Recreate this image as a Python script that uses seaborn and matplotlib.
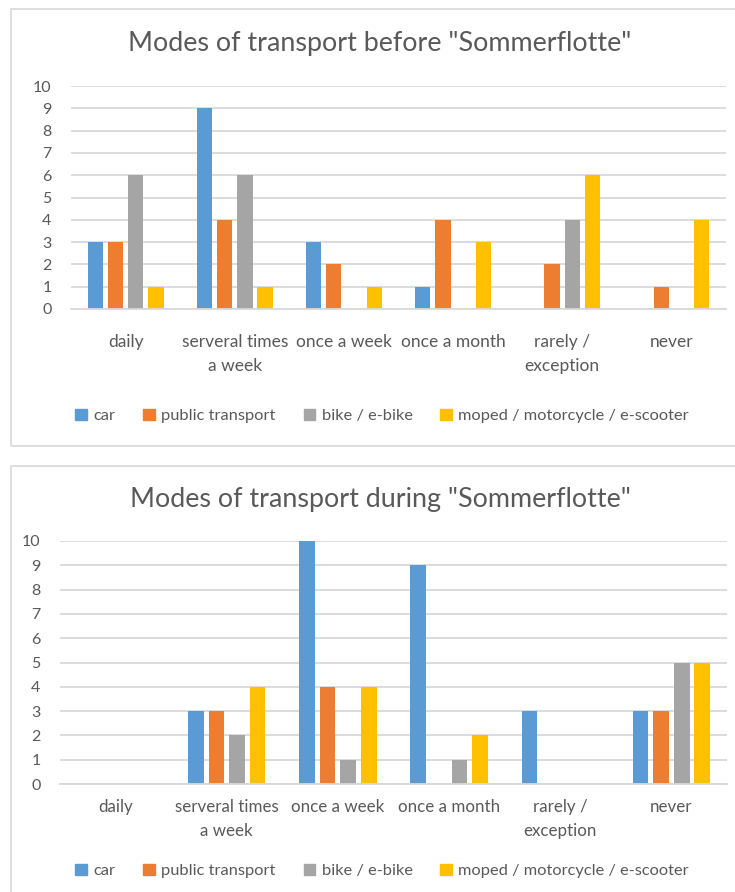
import numpy as np
import pandas as pd
import matplotlib
matplotlib.use("Agg")
import matplotlib.pyplot as plt
from matplotlib.patches import Rectangle
import seaborn as sns

sns.set_style("white")
plt.rcParams['font.family'] = ['Lato', 'DejaVu Sans']

# --------------------------------------------------
categories = ["daily", "serveral times\na week", "once a week", "once a month",
              "rarely /\nexception", "never"]
modes = ["car", "public transport", "bike / e-bike", "moped / motorcycle / e-scooter"]
colors = ["#5B9BD5", "#ED7D31", "#A5A5A5", "#FFC000"]

before_car = [3, 9, 3, 1, 0, 0]
before_public = [3, 4, 2, 4, 2, 1]
before_bike = [6, 6, 0, 0, 4, 0]
before_moped = [1, 1, 1, 3, 6, 4]

during_car = [0, 3, 10, 9, 3, 3]
during_public = [0, 3, 4, 0, 0, 3]
during_bike = [0, 2, 1, 1, 0, 5]
during_moped = [0, 4, 4, 2, 0, 5]

y_ticks = list(range(0, 11))

TEXT = "#595959"
GRID = "#D9D9D9"


def to_long(car, public, bike, moped):
    rows = []
    for mode, vals in zip(modes, [car, public, bike, moped]):
        for cat, v in zip(categories, vals):
            rows.append({"freq": cat, "count": v, "mode": mode})
    return pd.DataFrame(rows)


W, H = 735, 892
fig = plt.figure(figsize=(W / 100, H / 100), dpi=100)

# panel borders
fig.patches.append(Rectangle((11 / W, 1 - 446 / H), 800 / W, 437 / H,
                             transform=fig.transFigure, fill=False,
                             edgecolor=GRID, linewidth=1.2))
fig.patches.append(Rectangle((11 / W, -0.05), 800 / W, 0.05 + 1 - 466 / H,
                             transform=fig.transFigure, fill=False,
                             edgecolor=GRID, linewidth=1.2))


def draw(ax, df, title, title_y, label_pad, legend_y, lblsize):
    sns.barplot(data=df, x="freq", y="count", hue="mode", palette=colors,
                width=0.74, gap=0.24, linewidth=0, saturation=1, ax=ax,
                errorbar=None)
    ax.set_ylim(0, 10)
    ax.set_yticks(y_ticks)
    ax.grid(axis="y", color=GRID, linewidth=1.3)
    ax.set_axisbelow(True)
    for s in ["top", "right", "left"]:
        ax.spines[s].set_visible(False)
    ax.spines["bottom"].set_color(GRID)
    ax.spines["bottom"].set_linewidth(1.3)
    ax.set_xlabel("")
    ax.set_ylabel("")
    ax.tick_params(axis="y", length=0, pad=14, labelsize=11.5, labelcolor=TEXT)
    ax.tick_params(axis="x", length=0, pad=label_pad, labelsize=lblsize, labelcolor=TEXT)
    for t in ax.get_xticklabels():
        t.set_linespacing(1.6)
        t.set_verticalalignment("top")
    ax.legend_.remove()
    fig.text(380 / W, title_y, title, ha="center", va="center",
             fontsize=19.4, color=TEXT)
    handles = [Rectangle((0, 0), 1, 1, color=c) for c in colors]
    fig.legend(handles, modes, loc="center", bbox_to_anchor=(0.52, legend_y),
               ncol=4, frameon=False, fontsize=11.8, labelcolor=TEXT,
               handlelength=0.7, handleheight=0.7, handletextpad=0.4,
               columnspacing=1.7)


ax1 = fig.add_axes([71 / W, 1 - 309 / H, 655 / W, 223 / H])
draw(ax1, to_long(before_car, before_public, before_bike, before_moped),
     'Modes of transport before "Sommerflotte"', 1 - 44 / H, 18, 1 - 416 / H, 12.5)

ax2 = fig.add_axes([60 / W, 1 - 784 / H, 667 / W, 243 / H])
draw(ax2, to_long(during_car, during_public, during_bike, during_moped),
     'Modes of transport during "Sommerflotte"', 1 - 500 / H, 11, 1 - 871 / H, 12.2)

fig.savefig("out.png", dpi=100)
